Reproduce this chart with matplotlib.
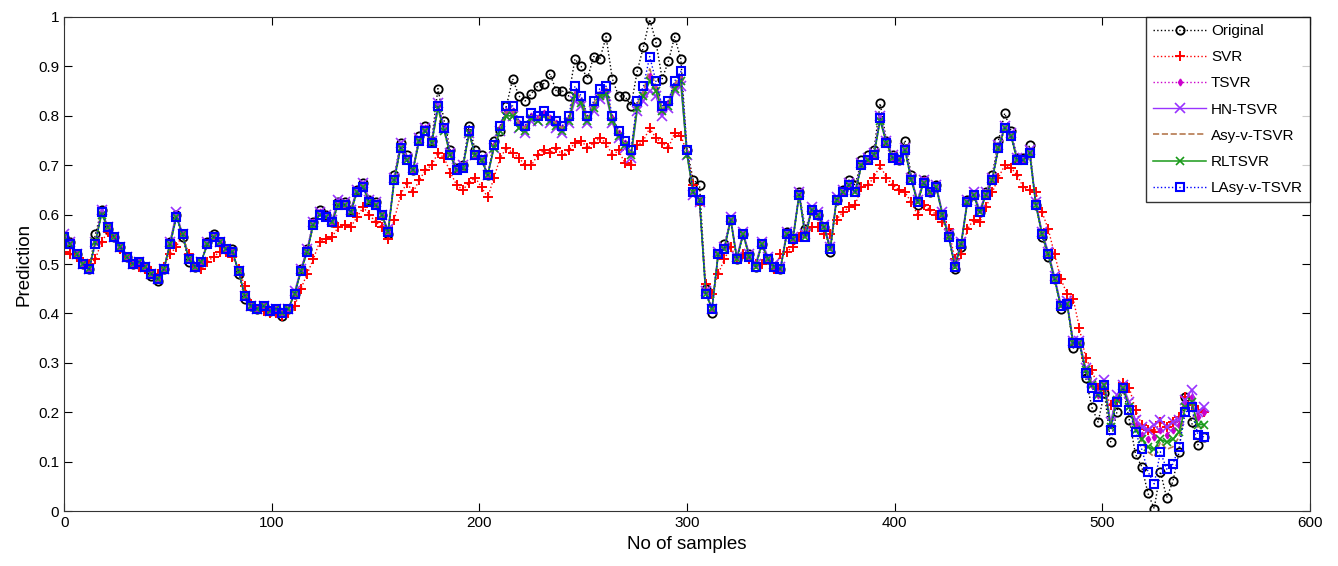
import numpy as np
import matplotlib
matplotlib.use("Agg")
import matplotlib.pyplot as plt

plt.rcParams['font.family'] = ['Liberation Sans', 'DejaVu Sans']

# sample index (every 3rd sample)
samples = np.arange(0, 550, 3)

original = [
    0.555, 0.545, 0.52, 0.50, 0.49, 0.56, 0.61, 0.57, 0.555, 0.535,
    0.515, 0.50, 0.505, 0.495, 0.475, 0.465, 0.49, 0.545, 0.60, 0.555,
    0.505, 0.495, 0.505, 0.545, 0.56, 0.545, 0.53, 0.53, 0.48, 0.43,
    0.415, 0.41, 0.415, 0.405, 0.41, 0.395, 0.41, 0.44, 0.49, 0.53,
    0.585, 0.61, 0.60, 0.585, 0.625, 0.625, 0.61, 0.65, 0.665, 0.63,
    0.625, 0.60, 0.56, 0.68, 0.745, 0.72, 0.69, 0.76, 0.78, 0.75,
    0.855, 0.79, 0.73, 0.695, 0.70, 0.78, 0.73, 0.72, 0.68, 0.75,
    0.77, 0.82, 0.875, 0.84, 0.83, 0.845, 0.86, 0.865, 0.885, 0.85,
    0.85, 0.84, 0.915, 0.90, 0.875, 0.92, 0.915, 0.96, 0.875, 0.84,
    0.84, 0.82, 0.89, 0.94, 0.995, 0.95, 0.875, 0.91, 0.96, 0.915,
    0.73, 0.67, 0.66, 0.45, 0.40, 0.52, 0.54, 0.59, 0.51, 0.56,
    0.52, 0.495, 0.54, 0.51, 0.495, 0.49, 0.565, 0.55, 0.645, 0.57,
    0.61, 0.60, 0.575, 0.525, 0.63, 0.65, 0.67, 0.66, 0.71, 0.72,
    0.73, 0.825, 0.75, 0.72, 0.71, 0.75, 0.68, 0.62, 0.67, 0.645,
    0.66, 0.60, 0.56, 0.49, 0.535, 0.63, 0.64, 0.605, 0.645, 0.68,
    0.75, 0.805, 0.77, 0.715, 0.715, 0.74, 0.62, 0.555, 0.515, 0.47,
    0.41, 0.42, 0.33, 0.34, 0.27, 0.21, 0.18, 0.24, 0.14, 0.20,
    0.25, 0.185, 0.115, 0.09, 0.036, 0.005, 0.08, 0.027, 0.06, 0.12,
    0.23, 0.18, 0.134, 0.15]

svr = [
    0.525, 0.52, 0.515, 0.505, 0.50, 0.51, 0.545, 0.565, 0.555, 0.53,
    0.515, 0.50, 0.495, 0.49, 0.485, 0.48, 0.495, 0.52, 0.535, 0.56,
    0.52, 0.495, 0.49, 0.505, 0.515, 0.525, 0.525, 0.515, 0.49, 0.455,
    0.42, 0.41, 0.405, 0.40, 0.40, 0.395, 0.40, 0.415, 0.45, 0.48,
    0.51, 0.545, 0.55, 0.555, 0.575, 0.58, 0.575, 0.595, 0.615, 0.60,
    0.585, 0.575, 0.55, 0.59, 0.64, 0.665, 0.645, 0.67, 0.69, 0.70,
    0.725, 0.715, 0.685, 0.66, 0.65, 0.665, 0.675, 0.655, 0.635, 0.675,
    0.715, 0.735, 0.725, 0.715, 0.70, 0.70, 0.72, 0.73, 0.725, 0.735,
    0.72, 0.73, 0.745, 0.75, 0.735, 0.745, 0.755, 0.745, 0.72, 0.73,
    0.705, 0.70, 0.74, 0.75, 0.775, 0.755, 0.745, 0.735, 0.765, 0.76,
    0.725, 0.66, 0.62, 0.46, 0.44, 0.48, 0.51, 0.535, 0.51, 0.52,
    0.51, 0.50, 0.50, 0.51, 0.49, 0.52, 0.525, 0.535, 0.555, 0.565,
    0.575, 0.575, 0.56, 0.56, 0.59, 0.605, 0.615, 0.62, 0.655, 0.66,
    0.675, 0.70, 0.675, 0.66, 0.65, 0.645, 0.625, 0.60, 0.62, 0.61,
    0.60, 0.585, 0.57, 0.51, 0.52, 0.57, 0.59, 0.585, 0.615, 0.645,
    0.675, 0.70, 0.695, 0.68, 0.655, 0.65, 0.645, 0.605, 0.57, 0.52,
    0.47, 0.44, 0.43, 0.37, 0.31, 0.285, 0.25, 0.245, 0.215, 0.225,
    0.26, 0.25, 0.205, 0.175, 0.165, 0.16, 0.18, 0.17, 0.18, 0.19,
    0.23, 0.215, 0.205, 0.20]

tsvr = [
    0.555, 0.545, 0.52, 0.50, 0.49, 0.545, 0.605, 0.575, 0.555, 0.535,
    0.515, 0.50, 0.505, 0.495, 0.48, 0.47, 0.49, 0.54, 0.60, 0.56,
    0.51, 0.495, 0.505, 0.54, 0.555, 0.545, 0.53, 0.525, 0.485, 0.435,
    0.415, 0.41, 0.415, 0.405, 0.41, 0.40, 0.41, 0.44, 0.49, 0.53,
    0.585, 0.605, 0.60, 0.585, 0.625, 0.62, 0.61, 0.65, 0.66, 0.63,
    0.62, 0.60, 0.565, 0.675, 0.74, 0.715, 0.69, 0.75, 0.775, 0.75,
    0.82, 0.775, 0.725, 0.69, 0.70, 0.765, 0.72, 0.71, 0.68, 0.74,
    0.775, 0.81, 0.81, 0.785, 0.775, 0.80, 0.795, 0.805, 0.795, 0.785,
    0.775, 0.795, 0.845, 0.83, 0.795, 0.82, 0.845, 0.85, 0.795, 0.765,
    0.745, 0.725, 0.82, 0.845, 0.88, 0.855, 0.81, 0.825, 0.86, 0.875,
    0.725, 0.645, 0.63, 0.445, 0.41, 0.52, 0.535, 0.59, 0.515, 0.56,
    0.515, 0.50, 0.54, 0.51, 0.495, 0.49, 0.56, 0.55, 0.64, 0.56,
    0.61, 0.60, 0.575, 0.535, 0.63, 0.645, 0.66, 0.65, 0.70, 0.71,
    0.72, 0.795, 0.745, 0.715, 0.71, 0.73, 0.675, 0.63, 0.67, 0.645,
    0.655, 0.60, 0.56, 0.50, 0.54, 0.625, 0.64, 0.61, 0.64, 0.67,
    0.735, 0.775, 0.76, 0.71, 0.71, 0.725, 0.625, 0.56, 0.52, 0.47,
    0.42, 0.42, 0.345, 0.34, 0.285, 0.255, 0.235, 0.26, 0.175, 0.23,
    0.25, 0.215, 0.175, 0.155, 0.145, 0.15, 0.165, 0.155, 0.165, 0.175,
    0.22, 0.23, 0.19, 0.20]

hn_tsvr = [
    0.56, 0.545, 0.52, 0.50, 0.49, 0.545, 0.61, 0.575, 0.555, 0.535,
    0.515, 0.50, 0.505, 0.495, 0.48, 0.47, 0.49, 0.545, 0.605, 0.56,
    0.51, 0.495, 0.505, 0.545, 0.555, 0.545, 0.53, 0.525, 0.485, 0.435,
    0.415, 0.41, 0.415, 0.405, 0.41, 0.40, 0.41, 0.445, 0.49, 0.53,
    0.585, 0.605, 0.60, 0.59, 0.63, 0.625, 0.61, 0.65, 0.665, 0.63,
    0.625, 0.60, 0.57, 0.675, 0.745, 0.715, 0.695, 0.755, 0.775, 0.75,
    0.825, 0.775, 0.725, 0.695, 0.70, 0.765, 0.72, 0.715, 0.68, 0.735,
    0.77, 0.80, 0.80, 0.775, 0.765, 0.79, 0.79, 0.80, 0.785, 0.775,
    0.765, 0.785, 0.83, 0.82, 0.785, 0.81, 0.835, 0.84, 0.785, 0.755,
    0.735, 0.715, 0.81, 0.83, 0.85, 0.84, 0.80, 0.815, 0.85, 0.86,
    0.72, 0.64, 0.625, 0.445, 0.41, 0.525, 0.535, 0.595, 0.515, 0.565,
    0.52, 0.50, 0.545, 0.515, 0.50, 0.495, 0.565, 0.555, 0.645, 0.56,
    0.615, 0.605, 0.58, 0.535, 0.635, 0.65, 0.665, 0.65, 0.705, 0.715,
    0.725, 0.80, 0.75, 0.72, 0.71, 0.735, 0.675, 0.63, 0.67, 0.65,
    0.66, 0.605, 0.56, 0.50, 0.545, 0.63, 0.645, 0.61, 0.645, 0.675,
    0.74, 0.78, 0.765, 0.715, 0.715, 0.73, 0.625, 0.565, 0.525, 0.475,
    0.42, 0.425, 0.345, 0.345, 0.29, 0.26, 0.24, 0.265, 0.18, 0.235,
    0.255, 0.22, 0.185, 0.17, 0.165, 0.175, 0.185, 0.17, 0.18, 0.185,
    0.225, 0.245, 0.20, 0.21]

asy_v_tsvr = [
    0.555, 0.54, 0.52, 0.50, 0.49, 0.545, 0.605, 0.575, 0.555, 0.535,
    0.515, 0.50, 0.505, 0.495, 0.48, 0.47, 0.49, 0.54, 0.595, 0.56,
    0.51, 0.495, 0.505, 0.54, 0.555, 0.545, 0.53, 0.525, 0.485, 0.435,
    0.415, 0.41, 0.415, 0.405, 0.41, 0.40, 0.41, 0.44, 0.485, 0.525,
    0.58, 0.60, 0.595, 0.585, 0.62, 0.62, 0.605, 0.645, 0.655, 0.625,
    0.62, 0.60, 0.565, 0.67, 0.735, 0.71, 0.69, 0.75, 0.77, 0.745,
    0.815, 0.77, 0.72, 0.69, 0.695, 0.765, 0.72, 0.71, 0.68, 0.74,
    0.775, 0.81, 0.81, 0.785, 0.775, 0.80, 0.795, 0.805, 0.795, 0.785,
    0.775, 0.795, 0.85, 0.835, 0.795, 0.825, 0.85, 0.855, 0.795, 0.765,
    0.745, 0.725, 0.825, 0.85, 0.895, 0.86, 0.815, 0.825, 0.865, 0.88,
    0.725, 0.645, 0.63, 0.44, 0.41, 0.52, 0.53, 0.59, 0.51, 0.56,
    0.515, 0.495, 0.54, 0.51, 0.495, 0.49, 0.56, 0.55, 0.64, 0.555,
    0.61, 0.60, 0.575, 0.53, 0.63, 0.645, 0.66, 0.645, 0.70, 0.71,
    0.72, 0.795, 0.745, 0.715, 0.71, 0.73, 0.67, 0.625, 0.665, 0.645,
    0.655, 0.60, 0.555, 0.495, 0.54, 0.625, 0.64, 0.605, 0.64, 0.67,
    0.735, 0.775, 0.76, 0.71, 0.71, 0.725, 0.62, 0.56, 0.52, 0.47,
    0.415, 0.42, 0.34, 0.34, 0.285, 0.255, 0.235, 0.255, 0.17, 0.225,
    0.25, 0.21, 0.17, 0.14, 0.12, 0.11, 0.14, 0.125, 0.13, 0.15,
    0.205, 0.215, 0.17, 0.17]

rltsvr = [
    0.555, 0.54, 0.52, 0.50, 0.49, 0.545, 0.60, 0.575, 0.555, 0.535,
    0.515, 0.50, 0.505, 0.495, 0.48, 0.47, 0.49, 0.54, 0.595, 0.56,
    0.51, 0.495, 0.505, 0.54, 0.555, 0.545, 0.53, 0.525, 0.485, 0.435,
    0.415, 0.41, 0.415, 0.405, 0.41, 0.40, 0.41, 0.44, 0.485, 0.525,
    0.58, 0.60, 0.595, 0.585, 0.62, 0.62, 0.605, 0.645, 0.655, 0.625,
    0.62, 0.60, 0.565, 0.67, 0.735, 0.71, 0.69, 0.75, 0.77, 0.745,
    0.815, 0.77, 0.72, 0.69, 0.695, 0.765, 0.72, 0.71, 0.68, 0.735,
    0.77, 0.80, 0.80, 0.775, 0.77, 0.795, 0.79, 0.80, 0.79, 0.78,
    0.77, 0.79, 0.84, 0.825, 0.79, 0.815, 0.84, 0.845, 0.79, 0.76,
    0.74, 0.72, 0.815, 0.84, 0.87, 0.85, 0.81, 0.82, 0.855, 0.87,
    0.72, 0.645, 0.63, 0.44, 0.41, 0.52, 0.53, 0.59, 0.51, 0.56,
    0.515, 0.495, 0.54, 0.51, 0.495, 0.49, 0.56, 0.55, 0.64, 0.555,
    0.61, 0.60, 0.575, 0.53, 0.63, 0.645, 0.66, 0.645, 0.70, 0.71,
    0.72, 0.79, 0.745, 0.715, 0.71, 0.73, 0.67, 0.625, 0.665, 0.645,
    0.655, 0.60, 0.555, 0.495, 0.54, 0.625, 0.64, 0.605, 0.64, 0.67,
    0.735, 0.775, 0.76, 0.71, 0.71, 0.725, 0.62, 0.56, 0.52, 0.47,
    0.415, 0.42, 0.34, 0.34, 0.285, 0.255, 0.235, 0.255, 0.17, 0.225,
    0.25, 0.21, 0.165, 0.145, 0.13, 0.125, 0.145, 0.14, 0.145, 0.16,
    0.21, 0.22, 0.175, 0.175]

lasy_v_tsvr = [
    0.555, 0.54, 0.52, 0.50, 0.49, 0.54, 0.605, 0.575, 0.555, 0.535,
    0.515, 0.50, 0.505, 0.495, 0.48, 0.47, 0.49, 0.54, 0.595, 0.56,
    0.51, 0.495, 0.505, 0.54, 0.555, 0.545, 0.53, 0.525, 0.485, 0.435,
    0.415, 0.41, 0.415, 0.405, 0.41, 0.40, 0.41, 0.44, 0.485, 0.525,
    0.58, 0.60, 0.595, 0.585, 0.62, 0.62, 0.605, 0.645, 0.655, 0.625,
    0.62, 0.60, 0.565, 0.67, 0.735, 0.71, 0.69, 0.75, 0.77, 0.745,
    0.82, 0.775, 0.72, 0.69, 0.695, 0.77, 0.72, 0.71, 0.68, 0.74,
    0.78, 0.82, 0.82, 0.79, 0.78, 0.805, 0.80, 0.81, 0.80, 0.79,
    0.78, 0.80, 0.86, 0.84, 0.80, 0.83, 0.855, 0.86, 0.80, 0.77,
    0.75, 0.73, 0.83, 0.86, 0.92, 0.87, 0.82, 0.83, 0.87, 0.89,
    0.73, 0.645, 0.63, 0.44, 0.41, 0.52, 0.53, 0.59, 0.51, 0.56,
    0.515, 0.495, 0.54, 0.51, 0.495, 0.49, 0.56, 0.55, 0.64, 0.555,
    0.61, 0.60, 0.575, 0.53, 0.63, 0.645, 0.66, 0.645, 0.70, 0.71,
    0.72, 0.795, 0.745, 0.715, 0.71, 0.73, 0.67, 0.625, 0.665, 0.645,
    0.655, 0.60, 0.555, 0.495, 0.54, 0.625, 0.64, 0.605, 0.64, 0.67,
    0.735, 0.775, 0.76, 0.71, 0.71, 0.725, 0.62, 0.56, 0.52, 0.47,
    0.415, 0.42, 0.34, 0.34, 0.28, 0.25, 0.23, 0.255, 0.165, 0.22,
    0.25, 0.205, 0.16, 0.125, 0.08, 0.055, 0.12, 0.085, 0.095, 0.13,
    0.20, 0.21, 0.155, 0.15]

fig = plt.figure(figsize=(13.38, 5.66), dpi=100)
ax = fig.add_axes([0.048, 0.097, 0.931, 0.873])

ax.plot(samples, original, ':o', color='black', ms=6, mfc='none', mew=1.3, lw=1.0, label='Original')
ax.plot(samples, svr, ':+', color='red', ms=7, mew=1.4, lw=1.0, label='SVR')
ax.plot(samples, tsvr, ':d', color='#cc00cc', ms=3.5, lw=1.0, label='TSVR')
ax.plot(samples, hn_tsvr, '-x', color='#9933ff', ms=7, mew=1.2, lw=1.0, label='HN-TSVR')
ax.plot(samples, asy_v_tsvr, '--', color='#b5794f', lw=1.2, label='Asy-v-TSVR')
ax.plot(samples, rltsvr, '-x', color='#1a9a1a', ms=6, mew=1.2, lw=1.1, label='RLTSVR')
ax.plot(samples, lasy_v_tsvr, ':s', color='blue', ms=6, mfc='none', mew=1.5, lw=1.0, label='LAsy-v-TSVR')

ax.set_xlim(0, 600)
ax.set_ylim(0, 1)
ax.set_xticks(np.arange(0, 601, 100))
ax.set_yticks(np.arange(0, 1.01, 0.1))
ax.set_yticklabels(['0', '0.1', '0.2', '0.3', '0.4', '0.5', '0.6', '0.7', '0.8', '0.9', '1'])
ax.tick_params(direction='in', top=True, right=True, labelsize=11, length=6)
for s in ax.spines.values():
    s.set_color('#333333')
ax.set_xlabel('No of samples', fontsize=13.5)
ax.set_ylabel('Prediction', fontsize=13.5)

leg = ax.legend(loc='upper right', fontsize=11, frameon=True, fancybox=False,
                edgecolor='black', handlelength=3.5, borderaxespad=0,
                labelspacing=0.8, handletextpad=0.3, borderpad=0.45)
leg.get_frame().set_linewidth(1.0)

fig.savefig('out.png', dpi=100)
